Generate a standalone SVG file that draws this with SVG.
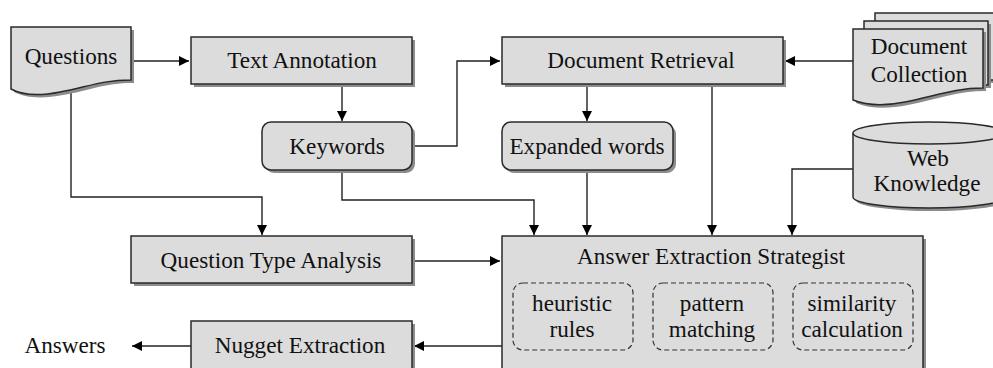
<svg xmlns="http://www.w3.org/2000/svg" xmlns:xlink="http://www.w3.org/1999/xlink" width="993" height="368" viewBox="0 0 993 368">
<style>
.box{fill:#dcdcdc;stroke:#2a2a2a;stroke-width:1.5}
.sh{fill:#8c8c8c;stroke:none}
.dash{fill:none;stroke:#333;stroke-width:1.2;stroke-dasharray:5,3}
.t{font-family:"Liberation Serif","Times New Roman",serif;font-size:23.2px;fill:#111;text-anchor:middle}
.c{fill:none;stroke:#222;stroke-width:1.4}
</style>
<defs>
<marker id="ah" viewBox="0 0 10 10" refX="10" refY="5" markerWidth="10" markerHeight="10" markerUnits="userSpaceOnUse" orient="auto">
<path d="M0,0 L10,5 L0,10 Z" fill="#000"/>
</marker>
</defs>
<rect width="993" height="368" fill="#fff"/>

<g id="connectors">
<path class="c" d="M131,61 H189" marker-end="url(#ah)"/>
<path class="c" d="M342,84 V121" marker-end="url(#ah)"/>
<path class="c" d="M412,146 H457 V61 H500" marker-end="url(#ah)"/>
<path class="c" d="M853,61 H785" marker-end="url(#ah)"/>
<path class="c" d="M587,84 V121" marker-end="url(#ah)"/>
<path class="c" d="M71,92 V197 H262 V235" marker-end="url(#ah)"/>
<path class="c" d="M342,170 V200 H534 V235" marker-end="url(#ah)"/>
<path class="c" d="M587,170 V235" marker-end="url(#ah)"/>
<path class="c" d="M712,84 V235" marker-end="url(#ah)"/>
<path class="c" d="M853,169 H792 V235" marker-end="url(#ah)"/>
<path class="c" d="M412,261 H500" marker-end="url(#ah)"/>
<path class="c" d="M502,346 H414" marker-end="url(#ah)"/>
<path class="c" d="M191,346 H132" marker-end="url(#ah)"/>
</g>

<g id="questions">
<path class="sh" transform="translate(3,3)" d="M11,27 H131 V80 C100,80 85,88 60,92 C40,96 22,95 11,89 Z"/>
<path class="box" d="M11,27 H131 V80 C100,80 85,88 60,92 C40,96 22,95 11,89 Z"/>
<text class="t" x="71" y="64">Questions</text>
</g>

<g id="text-annotation">
<rect class="sh" x="194" y="40" width="221" height="47"/>
<rect class="box" x="191" y="37" width="221" height="47"/>
<text class="t" x="302" y="68">Text Annotation</text>
</g>

<g id="keywords">
<rect class="sh" x="265" y="125" width="150" height="48" rx="9"/>
<rect class="box" x="262" y="122" width="150" height="48" rx="9"/>
<text class="t" x="337" y="154">Keywords</text>
</g>

<g id="document-retrieval">
<rect class="sh" x="505" y="40" width="281" height="47"/>
<rect class="box" x="502" y="37" width="281" height="47"/>
<text class="t" x="641" y="68">Document Retrieval</text>
</g>

<g id="document-collection">
<rect class="sh" x="878" y="16" width="125" height="67"/>
<rect class="box" x="875" y="13" width="125" height="67"/>
<rect class="sh" x="867" y="24" width="124" height="64"/>
<rect class="box" x="864" y="21" width="124" height="64"/>
<path class="sh" transform="translate(3,3)" d="M853,29 H983 V88 C955,88 935,96 905,102 C885,106 868,106 853,100 Z"/>
<path class="box" d="M853,29 H983 V88 C955,88 935,96 905,102 C885,106 868,106 853,100 Z"/>
<text class="t" x="919" y="54">Document</text>
<text class="t" x="919" y="82">Collection</text>
</g>

<g id="expanded-words">
<rect class="sh" x="505" y="125" width="171" height="48" rx="9"/>
<rect class="box" x="502" y="122" width="171" height="48" rx="9"/>
<text class="t" x="587" y="154">Expanded words</text>
</g>

<g id="web-knowledge">
<path class="sh" transform="translate(3,3)" d="M853,133 V197 A76,11 0 0 0 1005,197 V133 Z"/>
<path class="box" d="M853,133 V197 A76,11 0 0 0 1005,197 V133"/>
<ellipse class="box" cx="929" cy="133" rx="76" ry="11"/>
<text class="t" x="928" y="166">Web</text>
<text class="t" x="927" y="191">Knowledge</text>
</g>

<g id="question-type-analysis">
<rect class="sh" x="134" y="239" width="281" height="47"/>
<rect class="box" x="131" y="236" width="281" height="47"/>
<text class="t" x="271" y="268">Question Type Analysis</text>
</g>

<g id="answer-extraction-strategist">
<rect class="sh" x="505" y="239" width="421" height="140"/>
<rect class="box" x="502" y="236" width="421" height="140"/>
<text class="t" x="711" y="264">Answer Extraction Strategist</text>
<g id="heuristic-rules">
<rect class="dash" x="513" y="283" width="120" height="67" rx="10"/>
<text class="t" x="572" y="311">heuristic</text>
<text class="t" x="572" y="337">rules</text>
</g>
<g id="pattern-matching">
<rect class="dash" x="653" y="283" width="120" height="67" rx="10"/>
<text class="t" x="712" y="311">pattern</text>
<text class="t" x="712" y="337">matching</text>
</g>
<g id="similarity-calculation">
<rect class="dash" x="793" y="283" width="120" height="67" rx="10"/>
<text class="t" x="852" y="311">similarity</text>
<text class="t" x="852" y="337">calculation</text>
</g>
</g>

<g id="nugget-extraction">
<rect class="sh" x="194" y="324" width="221" height="60"/>
<rect class="box" x="191" y="321" width="221" height="60"/>
<text class="t" x="300" y="353">Nugget Extraction</text>
</g>

<g id="answers">
<text class="t" x="65" y="353">Answers</text>
</g>
</svg>
